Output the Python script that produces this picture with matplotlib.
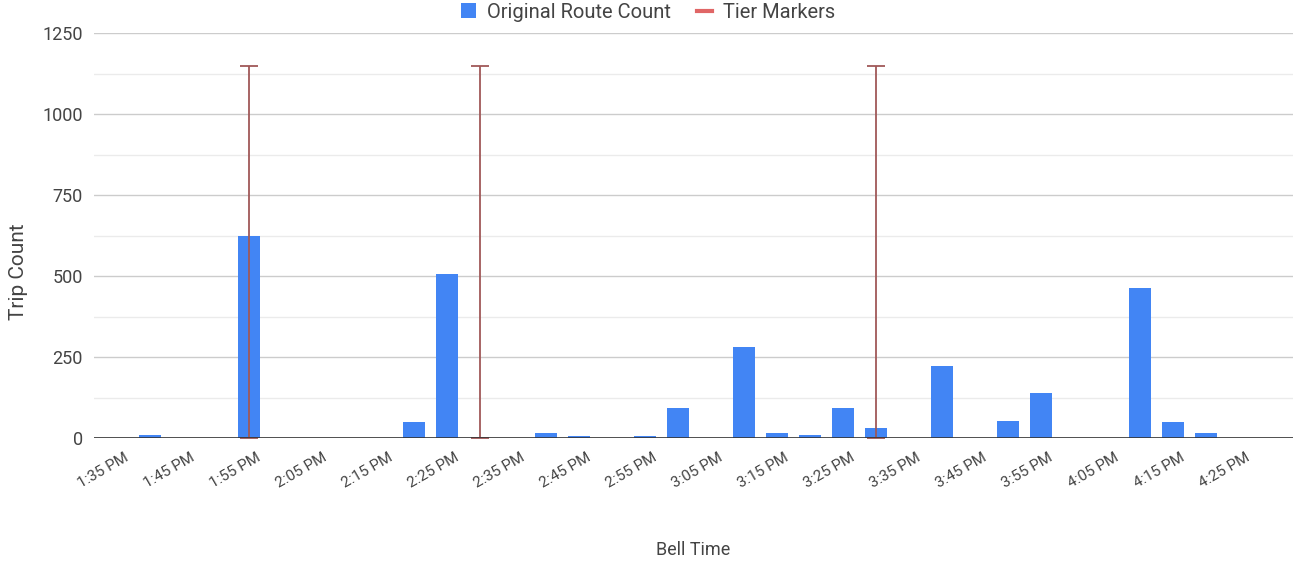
import matplotlib
matplotlib.use("Agg")
import matplotlib.pyplot as plt
import matplotlib.transforms as mtransforms
from matplotlib.lines import Line2D
from matplotlib.patches import Patch
import numpy as np

plt.rcParams['font.family'] = ['Roboto', 'DejaVu Sans']

times = ["1:35 PM", "1:40 PM", "1:45 PM", "1:50 PM", "1:55 PM", "2:00 PM", "2:05 PM",
         "2:10 PM", "2:15 PM", "2:20 PM", "2:25 PM", "2:30 PM", "2:35 PM", "2:40 PM",
         "2:45 PM", "2:50 PM", "2:55 PM", "3:00 PM", "3:05 PM", "3:10 PM", "3:15 PM",
         "3:20 PM", "3:25 PM", "3:30 PM", "3:35 PM", "3:40 PM", "3:45 PM", "3:50 PM",
         "3:55 PM", "4:00 PM", "4:05 PM", "4:10 PM", "4:15 PM", "4:20 PM", "4:25 PM"]
route_counts = [0, 8, 0, 0, 625, 0, 0,
                0, 0, 49, 505, 0, 0, 16,
                5, 0, 5, 93, 0, 281, 16,
                9, 93, 30, 0, 222, 0, 53,
                138, 0, 0, 462, 49, 17, 0]
tier_times = ["1:55 PM", "2:30 PM", "3:30 PM"]
tier_high = [1150, 1150, 1150]
tick_labels = times[::2]

fig = plt.figure(figsize=(12.94, 5.62), dpi=100)
ax = fig.add_axes([0.0727, 0.2206, 0.9263, 0.7204])

x = np.arange(len(times))
ax.bar(x, route_counts, width=0.67, color='#4285f4', zorder=3)

tx = [times.index(t) for t in tier_times]
ax.errorbar(tx, [0]*len(tx), yerr=[[0]*len(tx), tier_high], fmt='none',
            ecolor='#a05858', elinewidth=1.3, capsize=6.2, capthick=1.3, zorder=4)

ax.set_ylim(0, 1250)
ax.set_xlim(-0.7, 35.64)
ax.set_yticks([0, 250, 500, 750, 1000, 1250])
ax.set_yticks([125, 375, 625, 875, 1125], minor=True)
ax.grid(axis='y', which='major', color='#cccccc', linewidth=1, zorder=0)
ax.grid(axis='y', which='minor', color='#ebebeb', linewidth=1, zorder=0)
ax.axhline(0, color='#333333', linewidth=1.2, zorder=5)
for s in ax.spines.values():
    s.set_visible(False)
ax.tick_params(axis='y', which='both', length=0, labelsize=13, labelcolor='#444444', pad=8)
ax.set_xticks(x[::2])
ax.set_xticklabels(tick_labels, rotation=30, ha='right', rotation_mode='anchor',
                   fontsize=11, color='#444444')
ax.tick_params(axis='x', length=0, pad=9)
offset = mtransforms.ScaledTranslation(0.07, 0, fig.dpi_scale_trans)
for lbl in ax.get_xticklabels():
    lbl.set_transform(lbl.get_transform() + offset)

ax.set_ylabel("Trip Count", fontsize=15, color='#444444', labelpad=8)
ax.yaxis.set_label_coords(-0.0555, 0.41)
ax.set_xlabel("Bell Time", fontsize=13, color='#444444', labelpad=36)

handles = [Patch(facecolor='#4285f4', edgecolor='none'),
           Line2D([0], [0], color='#e06666', lw=3)]
fig.legend(handles, ["Original Route Count", "Tier Markers"], loc='center',
           bbox_to_anchor=(0.501, 0.978), ncol=2, frameon=False, fontsize=14.5,
           labelcolor='#444444', handlelength=0.75, handleheight=0.75,
           handletextpad=0.55, columnspacing=1.3)

fig.savefig("out.png", dpi=100)
